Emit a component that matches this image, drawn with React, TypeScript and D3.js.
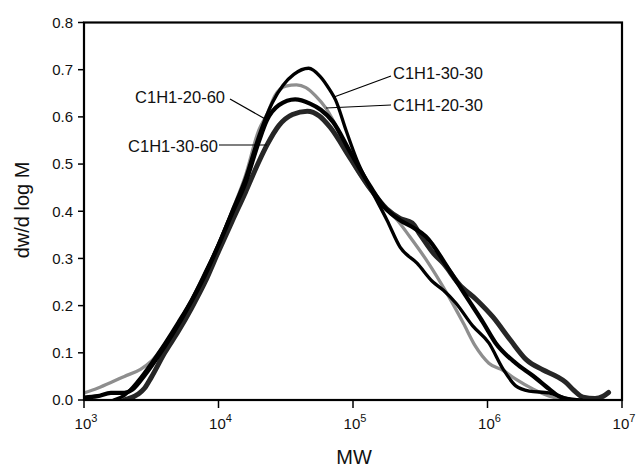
import React from "react";
import * as d3 from "d3";

// ---- data (log10 MW, dw/dlogM) ----
const s2030Log = [3.0,3.1,3.2,3.3,3.42,3.5,3.6,3.7,3.8,3.9,4.0,4.1,4.2,4.3,4.36,4.42,4.5,4.58,4.65,4.72,4.8,4.9,4.98,5.13,5.23,5.33,5.42,5.54,5.71,5.82,5.91,6.01,6.12,6.21,6.34,6.46,6.6];
const s2030Val = [0.015,0.025,0.037,0.05,0.065,0.082,0.118,0.16,0.21,0.268,0.33,0.4,0.475,0.572,0.605,0.645,0.665,0.668,0.662,0.645,0.618,0.565,0.512,0.445,0.41,0.381,0.347,0.299,0.22,0.163,0.114,0.078,0.062,0.044,0.023,0.008,0.0];

const s3030Log = [3.22,3.3,3.4,3.5,3.6,3.7,3.8,3.9,4.0,4.1,4.2,4.3,4.4,4.48,4.56,4.67,4.755,4.83,4.87,4.95,5.03,5.126,5.253,5.35,5.476,5.595,5.67,5.766,5.89,6.01,6.115,6.21,6.31,6.457,6.58,6.7];
const s3030Val = [0.0,0.01,0.04,0.078,0.12,0.165,0.213,0.27,0.33,0.4,0.47,0.56,0.63,0.667,0.69,0.703,0.686,0.656,0.636,0.57,0.508,0.451,0.381,0.324,0.29,0.25,0.233,0.205,0.157,0.121,0.066,0.03,0.019,0.015,0.004,0.0];

const s2060Log = [3.0,3.1,3.2,3.3,3.36,3.45,3.55,3.65,3.8,3.9,4.0,4.1,4.2,4.3,4.36,4.45,4.57,4.68,4.76,4.85,4.98,5.13,5.23,5.35,5.45,5.54,5.71,5.84,5.97,6.06,6.21,6.34,6.46,6.53,6.62];
const s2060Val = [0.005,0.008,0.015,0.015,0.022,0.052,0.092,0.136,0.21,0.265,0.328,0.395,0.46,0.548,0.593,0.625,0.637,0.628,0.615,0.59,0.525,0.452,0.41,0.381,0.365,0.347,0.278,0.22,0.163,0.121,0.078,0.051,0.023,0.008,0.0];

const s3060Log = [3.3,3.4,3.45,3.5,3.6,3.7,3.8,3.9,4.0,4.1,4.2,4.3,4.36,4.45,4.55,4.66,4.75,4.83,4.98,5.13,5.25,5.35,5.44,5.5,5.6,5.67,5.79,5.92,6.04,6.17,6.29,6.41,6.52,6.58,6.64,6.71,6.8,6.86,6.9];
const s3060Val = [0.0,0.012,0.025,0.048,0.1,0.145,0.195,0.25,0.315,0.378,0.44,0.505,0.54,0.582,0.605,0.612,0.602,0.578,0.512,0.447,0.405,0.385,0.375,0.35,0.31,0.29,0.245,0.212,0.176,0.127,0.085,0.064,0.049,0.038,0.021,0.006,0.003,0.008,0.016];

const yTicks = [0, 0.1, 0.2, 0.3, 0.4, 0.5, 0.6, 0.7, 0.8];
const xTickExps = [3, 4, 5, 6, 7];

const FONT = "Liberation Sans, Arial, sans-serif";

export default function App() {
  const W = 636, H = 472;
  const x = d3.scaleLog().domain([1e3, 1e7]).range([84, 622]);
  const y = d3.scaleLinear().domain([0, 0.8]).range([400, 22.5]);

  const line = d3
    .line<[number, number]>()
    .x((d) => x(Math.pow(10, d[0])))
    .y((d) => y(d[1]))
    .curve(d3.curveMonotoneX);

  const mk = (l: number[], v: number[]) => line(l.map((d, i) => [d, v[i]] as [number, number])) || "";

  const series = [
    { d: mk(s2030Log, s2030Val), color: "#8e8e8e", w: 3.3 },
    { d: mk(s3060Log, s3060Val), color: "#262626", w: 5 },
    { d: mk(s2060Log, s2060Val), color: "#000000", w: 4.3 },
    { d: mk(s3030Log, s3030Val), color: "#000000", w: 3.3 },
  ];

  return (
    <svg width={W} height={H} style={{ position: "absolute", left: 0, top: 0, background: "#fff" }} fontFamily={FONT}>
      <rect x={0} y={0} width={W} height={H} fill="#fff" />
      <defs>
        <clipPath id="plot">
          <rect x={84} y={22.5} width={538} height={378} />
        </clipPath>
      </defs>
      <g clipPath="url(#plot)">
        {series.map((s, i) => (
          <path key={i} d={s.d} fill="none" stroke={s.color} strokeWidth={s.w} strokeLinejoin="round" strokeLinecap="round" />
        ))}
      </g>
      {/* frame */}
      <rect x={84} y={22.5} width={538} height={377.5} fill="none" stroke="#000" strokeWidth={2.2} />
      {/* y ticks */}
      {yTicks.map((t) => (
        <g key={t}>
          <line x1={78} x2={84} y1={y(t)} y2={y(t)} stroke="#000" strokeWidth={1.5} />
          <text x={73} y={y(t)} dy="0.35em" textAnchor="end" fontSize={15} fill="#111">
            {t.toFixed(1)}
          </text>
        </g>
      ))}
      {/* x ticks */}
      {xTickExps.map((e) => (
        <g key={e}>
          <line x1={x(Math.pow(10, e))} x2={x(Math.pow(10, e))} y1={400} y2={408} stroke="#000" strokeWidth={1.5} />
          <text x={x(Math.pow(10, e)) + 2} y={429} textAnchor="middle" fontSize={15} fill="#111">
            10<tspan fontSize={11} dy={-7}>{e}</tspan>
          </text>
        </g>
      ))}
      {/* axis titles */}
      <text x={354} y={464} textAnchor="middle" fontSize={20} fill="#111">MW</text>
      <text transform="translate(29,210) rotate(-90)" textAnchor="middle" fontSize={20} fill="#111">dw/d log M</text>
      {/* annotations */}
      <line x1={230} y1={99} x2={267} y2={120} stroke="#000" strokeWidth={1.2} />
      <text x={225} y={97} dy="0.35em" textAnchor="end" fontSize={16.5} fill="#111">C1H1-20-60</text>
      <line x1={219} y1={145} x2={267} y2={145} stroke="#000" strokeWidth={1.2} />
      <text x={218} y={146} dy="0.35em" textAnchor="end" fontSize={16.5} fill="#111">C1H1-30-60</text>
      <line x1={391} y1={76} x2={334} y2={97} stroke="#000" strokeWidth={1.2} />
      <text x={393} y={73} dy="0.35em" textAnchor="start" fontSize={16.5} fill="#111">C1H1-30-30</text>
      <line x1={391} y1={105} x2={326} y2={108} stroke="#000" strokeWidth={1.2} />
      <text x={393} y={105} dy="0.35em" textAnchor="start" fontSize={16.5} fill="#111">C1H1-20-30</text>
    </svg>
  );
}
